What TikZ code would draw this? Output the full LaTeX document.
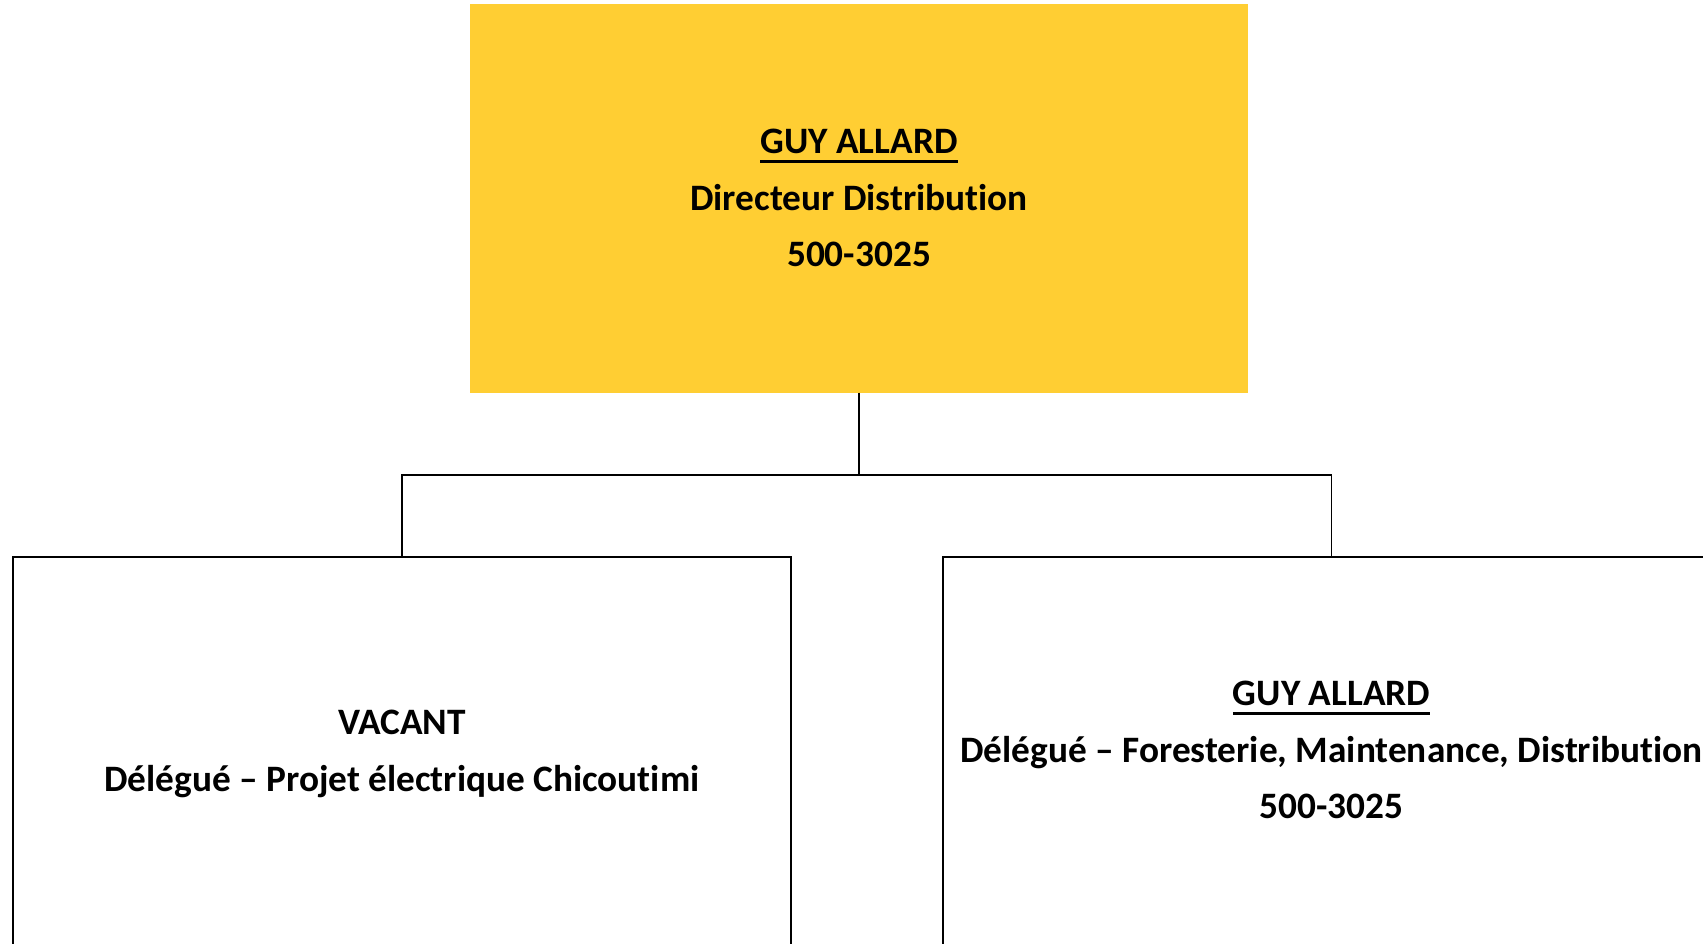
\documentclass[tikz,border=0pt]{standalone}
\usepackage{fontspec}
\setmainfont[Ligatures=CommonOff]{Carlito}
\definecolor{gold}{RGB}{255,206,51}
\newcommand\myul[1]{\leavevmode\vtop{\hbox{#1}\kern6.3pt\hrule height 2.6pt}}
\begin{document}
\begin{tikzpicture}[x=1pt,y=-1pt,
  boxtxt/.style={align=center,font=\fontsize{37.3}{56.5}\selectfont\bfseries,inner sep=0pt},
  topbox/.style={boxtxt,fill=gold,minimum width=778pt,minimum height=389pt},
  childbox/.style={draw=black,line width=2pt,minimum width=778pt,minimum height=390pt,inner sep=0pt},
  link/.style={draw=black,line width=1.6pt}]
\useasboundingbox (0,0) rectangle (1703,943);
\clip (0,0) rectangle (1703,943);
\fill[white] (0,0) rectangle (1703,943);
\node[topbox] (top) at (859,198) {\myul{GUY ALLARD}\\Directeur Distribution\\500-3025};
\node[childbox] (left) at (402,752) {};
\node[childbox] (right) at (1331.5,752) {};
\node[boxtxt] (lefttxt) at ([yshift=-2pt]left.center) {VACANT\\Délégué – Projet électrique Chicoutimi};
\node[boxtxt] (righttxt) at ([yshift=2pt]right.center) {\myul{GUY ALLARD}\\Délégué – Foresterie, Maintenance, Distribution\\500-3025};
\coordinate (mid) at (859,475);
\draw[link] (top.south) -- (mid);
\draw[link] (left.north) |- (mid) -| (right.north);
\end{tikzpicture}
\end{document}
